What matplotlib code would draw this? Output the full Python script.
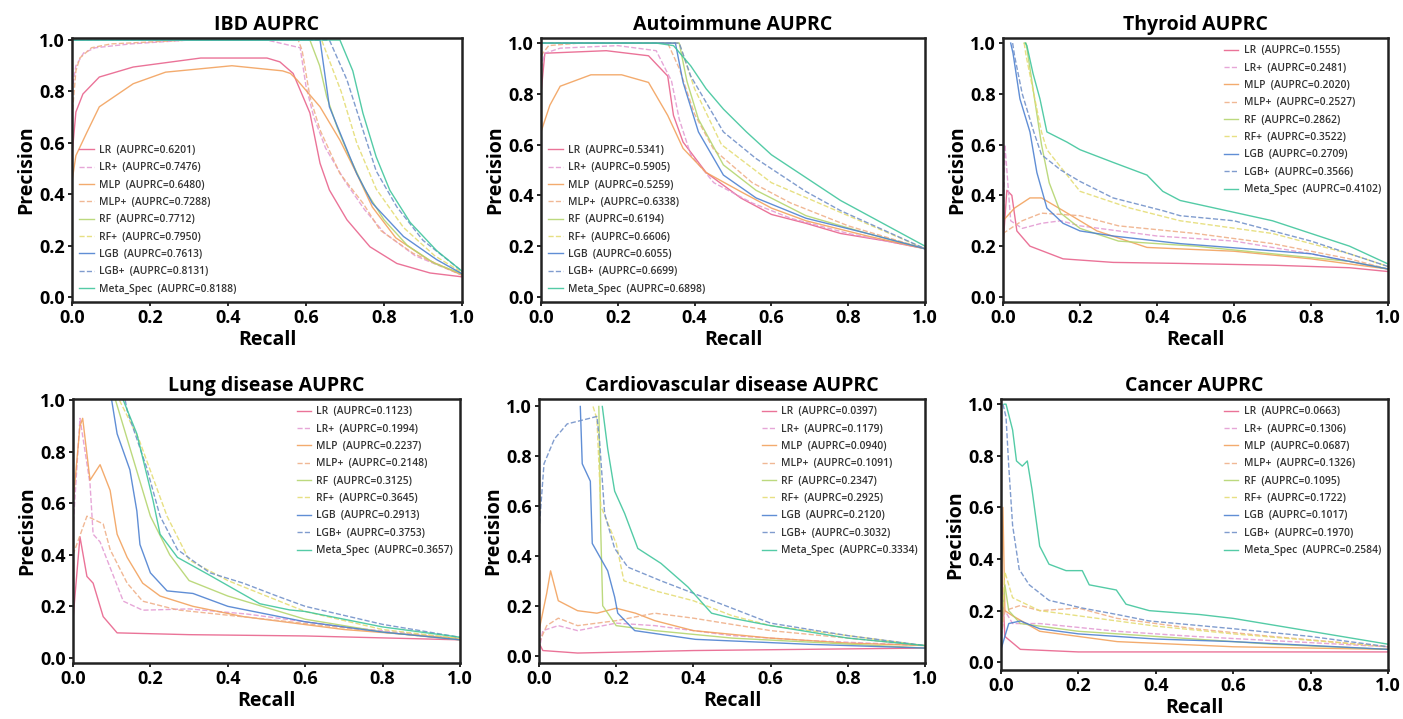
import matplotlib
matplotlib.use("Agg")
import matplotlib.pyplot as plt

plt.rcParams['font.family'] = ['Open Sans', 'DejaVu Sans']

models = ["LR", "LR+", "MLP", "MLP+", "RF", "RF+", "LGB", "LGB+", "Meta_Spec"]
colors = ["#e8608a", "#e39ad2", "#f2a05a", "#efae86", "#b3d46c",
          "#e4dc72", "#4a7fd0", "#6f8fc8", "#3cc49a"]
styles = ["-", "--", "-", "--", "-", "--", "-", "--", "-"]

titles = ["IBD AUPRC", "Autoimmune AUPRC", "Thyroid AUPRC",
          "Lung disease AUPRC", "Cardiovascular disease AUPRC", "Cancer AUPRC"]

auprc_ibd = [0.6201, 0.7476, 0.6480, 0.7288, 0.7712, 0.7950, 0.7613, 0.8131, 0.8188]
auprc_auto = [0.5341, 0.5905, 0.5259, 0.6338, 0.6194, 0.6606, 0.6055, 0.6699, 0.6898]
auprc_thyroid = [0.1555, 0.2481, 0.2020, 0.2527, 0.2862, 0.3522, 0.2709, 0.3566, 0.4102]
auprc_lung = [0.1123, 0.1994, 0.2237, 0.2148, 0.3125, 0.3645, 0.2913, 0.3753, 0.3657]
auprc_cardio = [0.0397, 0.1179, 0.0940, 0.1091, 0.2347, 0.2925, 0.2120, 0.3032, 0.3334]
auprc_cancer = [0.0663, 0.1306, 0.0687, 0.1326, 0.1095, 0.1722, 0.1017, 0.1970, 0.2584]

# ---------------- IBD ----------------
ibd_recall = {
    "LR": [0.0, 0.01, 0.028, 0.07, 0.157, 0.33, 0.5, 0.533, 0.567, 0.61, 0.636, 0.66, 0.705, 0.764, 0.833, 0.918, 1.0],
    "LR+": [0.0, 0.01, 0.03, 0.06, 0.15, 0.3, 0.5, 0.585, 0.6, 0.62, 0.65, 0.7, 0.75, 0.8, 0.88, 1.0],
    "MLP": [0.0, 0.01, 0.038, 0.07, 0.157, 0.24, 0.41, 0.54, 0.56, 0.577, 0.636, 0.687, 0.73, 0.77, 0.83, 0.918, 1.0],
    "MLP+": [0.0, 0.01, 0.02, 0.05, 0.1, 0.3, 0.58, 0.59, 0.61, 0.636, 0.687, 0.746, 0.79, 0.874, 1.0],
    "RF": [0.0, 0.3, 0.61, 0.635, 0.653, 0.68, 0.71, 0.75, 0.8, 0.86, 0.93, 1.0],
    "RF+": [0.0, 0.3, 0.64, 0.66, 0.69, 0.73, 0.78, 0.85, 0.93, 1.0],
    "LGB": [0.0, 0.3, 0.636, 0.66, 0.695, 0.73, 0.77, 0.85, 0.935, 1.0],
    "LGB+": [0.0, 0.3, 0.66, 0.705, 0.746, 0.78, 0.833, 0.9, 1.0],
    "Meta_Spec": [0.0, 0.3, 0.687, 0.72, 0.746, 0.78, 0.815, 0.867, 0.935, 1.0],
}
ibd_precision = {
    "LR": [0.55, 0.72, 0.79, 0.856, 0.895, 0.93, 0.93, 0.915, 0.87, 0.716, 0.52, 0.416, 0.30, 0.195, 0.13, 0.093, 0.078],
    "LR+": [0.8, 0.9, 0.95, 0.97, 0.985, 1.0, 1.0, 0.97, 0.82, 0.7, 0.58, 0.45, 0.34, 0.25, 0.16, 0.085],
    "MLP": [0.45, 0.55, 0.64, 0.74, 0.83, 0.875, 0.90, 0.88, 0.87, 0.845, 0.74, 0.61, 0.48, 0.35, 0.23, 0.14, 0.085],
    "MLP+": [0.7, 0.88, 0.93, 0.97, 0.985, 1.0, 1.0, 0.96, 0.78, 0.65, 0.48, 0.365, 0.26, 0.17, 0.085],
    "RF": [1.0, 1.0, 1.0, 0.9, 0.78, 0.66, 0.55, 0.42, 0.3, 0.2, 0.13, 0.09],
    "RF+": [1.0, 1.0, 1.0, 0.92, 0.8, 0.6, 0.42, 0.27, 0.16, 0.095],
    "LGB": [1.0, 1.0, 1.0, 0.74, 0.61, 0.48, 0.365, 0.235, 0.145, 0.09],
    "LGB+": [1.0, 1.0, 1.0, 0.845, 0.65, 0.49, 0.35, 0.22, 0.1],
    "Meta_Spec": [1.0, 1.0, 1.0, 0.88, 0.715, 0.545, 0.415, 0.29, 0.18, 0.1],
}

# ---------------- Autoimmune ----------------
auto_recall = {
    "LR": [0.0, 0.01, 0.17, 0.28, 0.33, 0.345, 0.37, 0.43, 0.52, 0.6, 0.69, 0.78, 0.9, 1.0],
    "LR+": [0.0, 0.01, 0.05, 0.2, 0.3, 0.34, 0.36, 0.39, 0.45, 0.55, 0.65, 0.8, 1.0],
    "MLP": [0.0, 0.023, 0.05, 0.13, 0.21, 0.28, 0.33, 0.37, 0.43, 0.52, 0.6, 0.69, 0.85, 1.0],
    "MLP+": [0.0, 0.02, 0.1, 0.33, 0.36, 0.4, 0.45, 0.55, 0.65, 0.8, 1.0],
    "RF": [0.0, 0.3, 0.36, 0.38, 0.41, 0.475, 0.56, 0.69, 0.85, 1.0],
    "RF+": [0.0, 0.3, 0.36, 0.4, 0.47, 0.6, 0.8, 1.0],
    "LGB": [0.0, 0.3, 0.35, 0.37, 0.41, 0.475, 0.56, 0.69, 0.85, 1.0],
    "LGB+": [0.0, 0.3, 0.36, 0.39, 0.475, 0.56, 0.69, 0.78, 1.0],
    "Meta_Spec": [0.0, 0.3, 0.345, 0.39, 0.43, 0.475, 0.535, 0.6, 0.69, 0.78, 1.0],
}
auto_precision = {
    "LR": [0.8, 0.96, 0.97, 0.95, 0.87, 0.715, 0.61, 0.49, 0.39, 0.325, 0.29, 0.25, 0.22, 0.19],
    "LR+": [0.9, 0.96, 0.98, 0.99, 0.97, 0.85, 0.7, 0.56, 0.45, 0.37, 0.31, 0.25, 0.19],
    "MLP": [0.65, 0.755, 0.83, 0.875, 0.875, 0.845, 0.715, 0.585, 0.49, 0.415, 0.35, 0.30, 0.24, 0.19],
    "MLP+": [0.95, 0.99, 1.0, 1.0, 0.9, 0.72, 0.58, 0.45, 0.37, 0.28, 0.19],
    "RF": [1.0, 1.0, 1.0, 0.85, 0.7, 0.52, 0.42, 0.32, 0.25, 0.19],
    "RF+": [1.0, 1.0, 1.0, 0.82, 0.6, 0.45, 0.32, 0.19],
    "LGB": [1.0, 1.0, 1.0, 0.845, 0.65, 0.48, 0.39, 0.31, 0.25, 0.19],
    "LGB+": [1.0, 1.0, 1.0, 0.87, 0.65, 0.545, 0.415, 0.34, 0.19],
    "Meta_Spec": [1.0, 1.0, 0.99, 0.91, 0.82, 0.74, 0.65, 0.56, 0.47, 0.38, 0.2],
}

# ---------------- Thyroid ----------------
thy_recall = {
    "LR": [0.0, 0.01, 0.023, 0.036, 0.07, 0.156, 0.286, 0.46, 0.7, 0.9, 1.0],
    "LR+": [0.0, 0.005, 0.02, 0.05, 0.1, 0.15, 0.2, 0.4, 0.6, 0.8, 1.0],
    "MLP": [0.0, 0.03, 0.07, 0.1, 0.156, 0.244, 0.374, 0.6, 0.8, 1.0],
    "MLP+": [0.0, 0.05, 0.1, 0.2, 0.3, 0.5, 0.7, 0.9, 1.0],
    "RF": [0.055, 0.06, 0.08, 0.1, 0.12, 0.15, 0.2, 0.3, 0.5, 0.7, 0.9, 1.0],
    "RF+": [0.055, 0.06, 0.1, 0.114, 0.2, 0.33, 0.46, 0.7, 0.9, 1.0],
    "LGB": [0.02, 0.026, 0.044, 0.07, 0.088, 0.114, 0.156, 0.2, 0.286, 0.46, 0.8, 1.0],
    "LGB+": [0.025, 0.03, 0.05, 0.08, 0.1, 0.15, 0.2, 0.286, 0.415, 0.46, 0.6, 0.8, 1.0],
    "Meta_Spec": [0.058, 0.062, 0.078, 0.096, 0.114, 0.166, 0.2, 0.286, 0.374, 0.415, 0.46, 0.7, 0.9, 1.0],
}
thy_precision = {
    "LR": [0.2, 0.42, 0.4, 0.26, 0.2, 0.15, 0.136, 0.132, 0.125, 0.115, 0.1],
    "LR+": [0.2, 0.6, 0.3, 0.27, 0.29, 0.3, 0.28, 0.24, 0.22, 0.17, 0.11],
    "MLP": [0.3, 0.35, 0.39, 0.39, 0.34, 0.26, 0.195, 0.18, 0.15, 0.11],
    "MLP+": [0.25, 0.3, 0.33, 0.32, 0.28, 0.25, 0.21, 0.15, 0.11],
    "RF": [1.0, 1.0, 0.8, 0.6, 0.45, 0.33, 0.27, 0.22, 0.2, 0.17, 0.14, 0.11],
    "RF+": [1.0, 0.95, 0.65, 0.58, 0.416, 0.35, 0.3, 0.25, 0.17, 0.12],
    "LGB": [1.0, 0.96, 0.78, 0.65, 0.49, 0.35, 0.29, 0.26, 0.24, 0.21, 0.17, 0.11],
    "LGB+": [1.0, 0.95, 0.8, 0.65, 0.56, 0.5, 0.455, 0.39, 0.34, 0.32, 0.3, 0.22, 0.12],
    "Meta_Spec": [1.0, 0.99, 0.88, 0.78, 0.65, 0.61, 0.58, 0.53, 0.48, 0.416, 0.38, 0.3, 0.2, 0.13],
}

# ---------------- Lung disease ----------------
lung_recall = {
    "LR": [0.0, 0.018, 0.036, 0.052, 0.078, 0.114, 0.3, 0.6, 1.0],
    "LR+": [0.0, 0.018, 0.044, 0.052, 0.07, 0.13, 0.18, 0.3, 0.45, 0.7, 1.0],
    "MLP": [0.0, 0.018, 0.025, 0.044, 0.07, 0.096, 0.114, 0.14, 0.18, 0.225, 0.31, 0.44, 0.7, 1.0],
    "MLP+": [0.0, 0.036, 0.078, 0.096, 0.14, 0.18, 0.27, 0.5, 0.8, 1.0],
    "RF": [0.11, 0.15, 0.2, 0.25, 0.3, 0.4, 0.6, 0.8, 1.0],
    "RF+": [0.12, 0.17, 0.243, 0.3, 0.4, 0.6, 0.8, 1.0],
    "LGB": [0.1, 0.114, 0.147, 0.165, 0.173, 0.2, 0.243, 0.31, 0.4, 0.6, 0.8, 1.0],
    "LGB+": [0.135, 0.14, 0.19, 0.225, 0.27, 0.354, 0.44, 0.527, 0.6, 0.8, 1.0],
    "Meta_Spec": [0.13, 0.165, 0.207, 0.225, 0.27, 0.354, 0.483, 0.56, 0.6, 0.8, 1.0],
}
lung_precision = {
    "LR": [0.15, 0.47, 0.316, 0.29, 0.16, 0.097, 0.09, 0.085, 0.07],
    "LR+": [0.5, 0.93, 0.675, 0.48, 0.45, 0.22, 0.185, 0.19, 0.17, 0.12, 0.075],
    "MLP": [0.6, 0.9, 0.93, 0.69, 0.75, 0.65, 0.48, 0.39, 0.29, 0.24, 0.2, 0.16, 0.11, 0.075],
    "MLP+": [0.4, 0.55, 0.52, 0.42, 0.29, 0.22, 0.186, 0.15, 0.1, 0.07],
    "RF": [1.0, 0.8, 0.55, 0.4, 0.3, 0.24, 0.15, 0.1, 0.07],
    "RF+": [1.0, 0.85, 0.55, 0.38, 0.3, 0.18, 0.11, 0.075],
    "LGB": [1.0, 0.87, 0.73, 0.57, 0.44, 0.33, 0.26, 0.25, 0.2, 0.14, 0.1, 0.07],
    "LGB+": [1.0, 0.96, 0.74, 0.55, 0.42, 0.33, 0.29, 0.24, 0.2, 0.13, 0.08],
    "Meta_Spec": [1.0, 0.87, 0.61, 0.48, 0.39, 0.32, 0.21, 0.186, 0.18, 0.12, 0.08],
}

# ---------------- Cardiovascular disease ----------------
cardio_recall = {
    "LR": [0.0, 0.01, 0.1, 0.4, 0.7, 1.0],
    "LR+": [0.0, 0.01, 0.05, 0.1, 0.2, 0.3, 0.5, 0.7, 1.0],
    "MLP": [0.0, 0.02, 0.03, 0.05, 0.1, 0.15, 0.2, 0.25, 0.3, 0.4, 0.6, 0.8, 1.0],
    "MLP+": [0.0, 0.02, 0.05, 0.1, 0.2, 0.3, 0.4, 0.6, 0.8, 1.0],
    "RF": [0.155, 0.16, 0.165, 0.2, 0.3, 0.5, 1.0],
    "RF+": [0.14, 0.15, 0.16, 0.2, 0.22, 0.3, 0.4, 0.5, 0.6, 0.8, 1.0],
    "LGB": [0.107, 0.112, 0.133, 0.138, 0.178, 0.196, 0.204, 0.248, 0.405, 0.7, 1.0],
    "LGB+": [0.0, 0.013, 0.04, 0.073, 0.125, 0.15, 0.157, 0.17, 0.196, 0.23, 0.316, 0.4, 0.6, 0.8, 1.0],
    "Meta_Spec": [0.164, 0.178, 0.196, 0.222, 0.256, 0.316, 0.386, 0.447, 0.5, 0.6, 0.8, 1.0],
}
cardio_precision = {
    "LR": [0.05, 0.02, 0.01, 0.02, 0.025, 0.03],
    "LR+": [0.02, 0.1, 0.12, 0.1, 0.13, 0.12, 0.08, 0.06, 0.04],
    "MLP": [0.1, 0.25, 0.34, 0.22, 0.18, 0.17, 0.19, 0.17, 0.14, 0.1, 0.07, 0.05, 0.04],
    "MLP+": [0.05, 0.12, 0.15, 0.12, 0.14, 0.17, 0.15, 0.1, 0.07, 0.04],
    "RF": [1.0, 0.5, 0.2, 0.12, 0.1, 0.07, 0.03],
    "RF+": [1.0, 0.95, 0.6, 0.45, 0.3, 0.26, 0.22, 0.16, 0.12, 0.08, 0.04],
    "LGB": [1.0, 0.77, 0.7, 0.45, 0.34, 0.235, 0.17, 0.1, 0.065, 0.045, 0.03],
    "LGB+": [0.5, 0.77, 0.87, 0.93, 0.95, 0.96, 0.86, 0.57, 0.43, 0.355, 0.3, 0.25, 0.13, 0.08, 0.04],
    "Meta_Spec": [1.0, 0.83, 0.66, 0.57, 0.43, 0.37, 0.275, 0.17, 0.15, 0.12, 0.07, 0.04],
}

# ---------------- Cancer ----------------
cancer_recall = {
    "LR": [0.0, 0.01, 0.05, 0.2, 0.5, 1.0],
    "LR+": [0.0, 0.01, 0.03, 0.1, 0.3, 0.5, 1.0],
    "MLP": [0.0, 0.005, 0.01, 0.03, 0.1, 0.3, 0.6, 1.0],
    "MLP+": [0.0, 0.01, 0.05, 0.1, 0.2, 0.3, 0.5, 0.7, 1.0],
    "RF": [0.0, 0.01, 0.02, 0.05, 0.1, 0.2, 0.4, 0.7, 1.0],
    "RF+": [0.0, 0.01, 0.03, 0.1, 0.2, 0.4, 0.6, 1.0],
    "LGB": [0.0, 0.02, 0.05, 0.1, 0.2, 0.4, 0.6, 1.0],
    "LGB+": [0.005, 0.013, 0.02, 0.03, 0.047, 0.073, 0.124, 0.21, 0.3, 0.383, 0.6, 0.8, 1.0],
    "Meta_Spec": [0.008, 0.013, 0.03, 0.04, 0.055, 0.068, 0.08, 0.09, 0.1, 0.124, 0.168, 0.21, 0.228, 0.298, 0.323, 0.383, 0.513, 0.6, 0.8, 1.0],
}
cancer_precision = {
    "LR": [0.4, 0.1, 0.05, 0.04, 0.04, 0.04],
    "LR+": [0.1, 0.2, 0.15, 0.15, 0.12, 0.1, 0.06],
    "MLP": [0.1, 0.6, 0.2, 0.18, 0.12, 0.08, 0.06, 0.05],
    "MLP+": [0.1, 0.2, 0.22, 0.2, 0.21, 0.17, 0.13, 0.1, 0.06],
    "RF": [0.1, 0.3, 0.2, 0.15, 0.14, 0.12, 0.1, 0.07, 0.05],
    "RF+": [0.1, 0.35, 0.25, 0.2, 0.18, 0.14, 0.11, 0.06],
    "LGB": [0.05, 0.15, 0.16, 0.13, 0.11, 0.09, 0.08, 0.05],
    "LGB+": [1.0, 0.95, 0.76, 0.53, 0.36, 0.3, 0.24, 0.21, 0.185, 0.16, 0.13, 0.1, 0.06],
    "Meta_Spec": [1.0, 1.0, 0.9, 0.78, 0.76, 0.78, 0.67, 0.56, 0.45, 0.38, 0.355, 0.355, 0.3, 0.28, 0.225, 0.2, 0.185, 0.17, 0.12, 0.07],
}

panels = [
    (ibd_recall, ibd_precision, auprc_ibd, "lower left", (-0.02, 1.008)),
    (auto_recall, auto_precision, auprc_auto, "lower left", (-0.02, 1.02)),
    (thy_recall, thy_precision, auprc_thyroid, "upper right", (-0.02, 1.02)),
    (lung_recall, lung_precision, auprc_lung, "upper right", (-0.02, 1.005)),
    (cardio_recall, cardio_precision, auprc_cardio, "upper right", (-0.03, 1.03)),
    (cancer_recall, cancer_precision, auprc_cancer, "upper right", (-0.03, 1.02)),
]

W, H = 1403, 719
fig = plt.figure(figsize=(W / 100, H / 100), dpi=100)
boxes = [
    (72, 38, 462, 302), (541, 38, 925, 302), (1003, 38, 1388, 302),
    (73, 399, 460, 663), (539, 399, 925, 663), (1001, 399, 1388, 670),
]

for i, ((rec, prec, auc, loc, ylim), (x0, y0, x1, y1)) in enumerate(zip(panels, boxes)):
    ax = fig.add_axes([x0 / W, 1 - y1 / H, (x1 - x0) / W, (y1 - y0) / H])
    for m, c, ls, a in zip(models, colors, styles, auc):
        ax.plot(rec[m], prec[m], color=c, linestyle=ls, linewidth=1.0, alpha=0.88,
                label=f"{m}  (AUPRC={a:.4f})")
    ax.set_xlim(0, 1)
    ax.set_ylim(*ylim)
    ax.set_xticks([0, 0.2, 0.4, 0.6, 0.8, 1.0])
    ax.set_yticks([0, 0.2, 0.4, 0.6, 0.8, 1.0])
    ax.set_xticklabels(["0.0", "0.2", "0.4", "0.6", "0.8", "1.0"])
    ax.set_yticklabels(["0.0", "0.2", "0.4", "0.6", "0.8", "1.0"])
    for lab in ax.get_xticklabels() + ax.get_yticklabels():
        lab.set_fontsize(13)
        lab.set_fontweight("bold")
    ax.tick_params(length=3, width=1.2, pad=2)
    for sp in ax.spines.values():
        sp.set_linewidth(1.8)
        sp.set_color("#222222")
    ax.set_title(titles[i], fontsize=14, fontweight="bold", pad=6)
    ax.set_xlabel("Recall", fontsize=14, fontweight="bold", labelpad=2)
    ax.set_ylabel("Precision", fontsize=14, fontweight="bold", labelpad=2)
    leg = ax.legend(loc=loc, frameon=False, handlelength=1.4,
                    handletextpad=0.5, labelspacing=0.62, borderaxespad=0.3,
                    prop={"weight": "semibold", "size": 7.4})
    for t in leg.get_texts():
        t.set_color("#333333")

fig.savefig("out.png", dpi=100)
